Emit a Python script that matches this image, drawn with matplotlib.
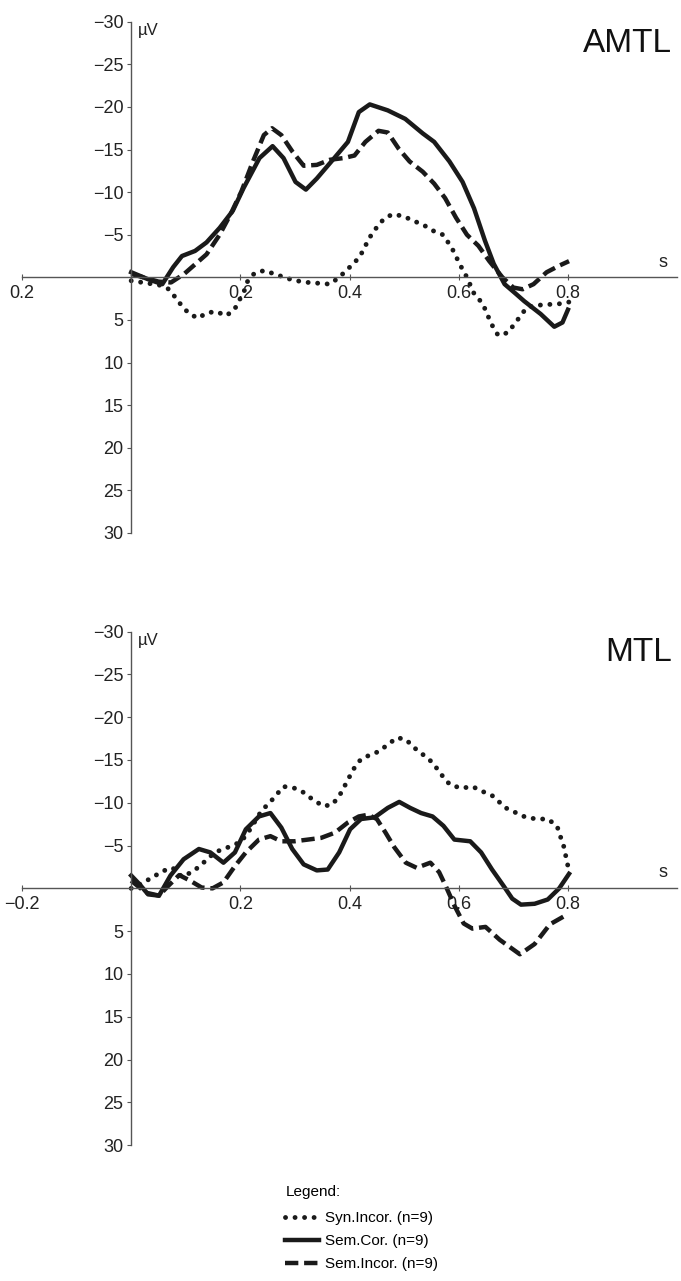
import matplotlib
matplotlib.use("Agg")
import matplotlib.pyplot as plt

plt.rcParams['font.family'] = ['Liberation Sans', 'DejaVu Sans']

# ---- AMTL panel (time in s, amplitude in uV) ----
amtl_syn_t = [0.0, 0.051, 0.067, 0.079, 0.091, 0.105, 0.122, 0.138, 0.155, 0.174, 0.189, 0.198,
              0.207, 0.213, 0.226, 0.244, 0.262, 0.281, 0.297, 0.324, 0.344, 0.364, 0.381, 0.397,
              0.409, 0.421, 0.437, 0.449, 0.462, 0.478, 0.498, 0.518, 0.534, 0.555, 0.571, 0.587,
              0.603, 0.615, 0.628, 0.644, 0.66, 0.672, 0.69, 0.71, 0.725, 0.74, 0.761, 0.785, 0.802]
amtl_syn_v = [0.4, 0.9, 1.3, 2.2, 3.2, 4.2, 4.8, 4.2, 4.0, 4.5, 3.8, 2.7,
              1.6, 0.5, -0.5, -0.8, -0.4, 0.0, 0.35, 0.6, 0.7, 0.8, 0.0, -1.0,
              -1.7, -2.7, -4.7, -5.8, -6.8, -7.4, -7.2, -6.6, -6.2, -5.4, -5.0, -3.5,
              -1.4, 0.0, 1.9, 3.1, 5.5, 6.8, 6.5, 4.8, 3.5, 3.3, 3.2, 3.1, 2.9]

amtl_cor_t = [0.0, 0.03, 0.057, 0.077, 0.093, 0.117, 0.138, 0.162, 0.186, 0.206, 0.235, 0.259,
              0.279, 0.301, 0.32, 0.34, 0.372, 0.397, 0.417, 0.437, 0.47, 0.502, 0.534, 0.555,
              0.583, 0.607, 0.628, 0.648, 0.664, 0.684, 0.704, 0.72, 0.75, 0.775, 0.79, 0.8]
amtl_cor_v = [-0.6, 0.2, 0.8, -1.2, -2.5, -3.1, -4.1, -5.8, -7.8, -10.5, -14.0, -15.4,
              -14.0, -11.2, -10.3, -11.6, -14.0, -15.9, -19.4, -20.3, -19.6, -18.6, -16.9, -15.9,
              -13.6, -11.2, -8.1, -4.3, -1.6, 0.8, 1.9, 2.8, 4.3, 5.8, 5.3, 3.8]

amtl_inc_t = [0.0, 0.05, 0.073, 0.097, 0.138, 0.162, 0.182, 0.202, 0.223, 0.243, 0.258, 0.275,
              0.296, 0.316, 0.34, 0.364, 0.389, 0.409, 0.429, 0.453, 0.47, 0.49, 0.51, 0.534,
              0.555, 0.575, 0.595, 0.615, 0.636, 0.656, 0.68, 0.7, 0.717, 0.737, 0.761, 0.785, 0.802]
amtl_inc_v = [-0.4, 0.5, 0.6, -0.4, -2.7, -5.0, -7.4, -10.1, -13.6, -16.7, -17.5, -16.7,
              -14.7, -13.1, -13.2, -13.8, -14.0, -14.3, -15.9, -17.2, -17.0, -15.1, -13.6, -12.4,
              -11.0, -9.3, -7.0, -5.0, -3.7, -1.9, 0.0, 1.2, 1.4, 0.8, -0.6, -1.4, -1.9]

# ---- MTL panel ----
mtl_syn_t = [0.0, 0.023, 0.039, 0.059, 0.076, 0.092, 0.112, 0.129, 0.153, 0.169, 0.186, 0.202,
             0.218, 0.238, 0.259, 0.279, 0.299, 0.316, 0.332, 0.352, 0.369, 0.385, 0.397, 0.409,
             0.421, 0.438, 0.454, 0.47, 0.487, 0.503, 0.519, 0.535, 0.552, 0.568, 0.584, 0.605,
             0.625, 0.641, 0.662, 0.686, 0.706, 0.723, 0.743, 0.763, 0.78, 0.786, 0.792, 0.796, 0.8]
mtl_syn_v = [0.0, -0.7, -1.3, -2.05, -2.4, -1.4, -1.9, -2.8, -4.2, -4.6, -5.0, -5.5,
             -6.9, -9.0, -10.4, -11.9, -11.7, -11.2, -10.4, -9.6, -9.8, -11.2, -12.7, -14.1,
             -15.1, -15.6, -16.0, -16.8, -17.6, -17.4, -16.4, -15.6, -14.7, -13.3, -12.1, -11.7,
             -11.9, -11.4, -10.8, -9.4, -8.8, -8.3, -8.1, -8.1, -7.3, -6.1, -5.0, -3.8, -2.6]

mtl_cor_t = [0.0, 0.015, 0.031, 0.051, 0.072, 0.096, 0.124, 0.145, 0.169, 0.19, 0.21, 0.234,
             0.255, 0.275, 0.295, 0.316, 0.34, 0.36, 0.381, 0.401, 0.421, 0.446, 0.47, 0.491,
             0.511, 0.531, 0.552, 0.572, 0.592, 0.621, 0.641, 0.661, 0.682, 0.698, 0.714, 0.739,
             0.763, 0.784, 0.802]
mtl_cor_v = [-1.5, -0.5, 0.7, 0.85, -1.5, -3.4, -4.6, -4.2, -3.0, -4.2, -6.9, -8.4,
             -8.8, -7.1, -4.6, -2.8, -2.1, -2.2, -4.2, -6.9, -8.1, -8.3, -9.4, -10.1,
             -9.4, -8.8, -8.4, -7.3, -5.7, -5.5, -4.2, -2.2, -0.3, 1.2, 1.9, 1.8,
             1.3, 0.0, -1.7]

mtl_inc_t = [0.0, 0.027, 0.051, 0.068, 0.088, 0.108, 0.129, 0.149, 0.169, 0.19, 0.21, 0.234,
             0.255, 0.275, 0.299, 0.324, 0.348, 0.373, 0.397, 0.417, 0.434, 0.45, 0.466, 0.482,
             0.503, 0.523, 0.548, 0.564, 0.576, 0.592, 0.609, 0.625, 0.649, 0.675, 0.712, 0.739,
             0.767, 0.8]
mtl_inc_v = [-0.9, 0.5, 0.85, -0.3, -1.55, -0.9, -0.1, 0.0, -0.7, -2.6, -4.2, -5.7,
             -6.1, -5.5, -5.5, -5.7, -5.9, -6.5, -7.7, -8.4, -8.6, -8.1, -6.5, -4.8,
             -3.0, -2.4, -3.0, -1.9, -0.3, 2.0, 4.1, 4.7, 4.5, 6.0, 7.7, 6.5,
             4.2, 3.0]

labels = ["Syn.Incor. (n=9)", "Sem.Cor. (n=9)", "Sem.Incor. (n=9)"]
yticks = [-30, -25, -20, -15, -10, -5, 5, 10, 15, 20, 25, 30]
xticks = [-0.2, 0.2, 0.4, 0.6, 0.8]

col = "#1a1a1a"
axcol = "#555555"
styles = [dict(linestyle=(0, (0.01, 1.95)), lw=3.5, dash_capstyle="round"),
          dict(linestyle="-", lw=3.2),
          dict(linestyle=(0, (3.0, 1.3)), lw=3.2)]

fig = plt.figure(figsize=(6.81, 12.81), dpi=100)


def panel(rect, series, name, xlabels):
    ax = fig.add_axes(rect)
    handles = []
    for (t, v), st, lab in zip(series, styles, labels):
        h, = ax.plot(t, v, color=col, label=lab, **st)
        handles.append(h)
    ax.set_xlim(-0.2, 1.0)
    ax.set_ylim(30, -30)
    for s in ["top", "right"]:
        ax.spines[s].set_visible(False)
    ax.spines["left"].set_position(("data", 0))
    ax.spines["bottom"].set_position(("data", 0))
    for s in ["left", "bottom"]:
        ax.spines[s].set_color(axcol)
        ax.spines[s].set_linewidth(1.0)
    ax.set_yticks(yticks)
    ax.set_yticklabels([str(y).replace("-", "\u2212") for y in yticks])
    ax.set_xticks(xticks)
    ax.set_xticklabels(xlabels)
    ax.tick_params(axis="y", direction="out", length=3, pad=2.5, labelsize=13,
                   color=axcol, labelcolor="#222222")
    ax.tick_params(axis="x", direction="inout", length=5, pad=3, labelsize=13,
                   color=axcol, labelcolor="#222222")
    ax.text(0.012, -29.0, "\u00b5V", fontsize=12, ha="left", va="center", color="#222222")
    ax.text(0.975, -1.8, "s", fontsize=13, ha="center", va="center", color="#222222")
    ax.text(0.99, -27.5, name, fontsize=24, ha="right", va="center", color="#111111")
    return handles


panel([0.0323, 0.584, 0.962, 0.399],
      [(amtl_syn_t, amtl_syn_v), (amtl_cor_t, amtl_cor_v), (amtl_inc_t, amtl_inc_v)],
      "AMTL", ["0.2", "0.2", "0.4", "0.6", "0.8"])
handles = panel([0.0323, 0.106, 0.962, 0.401],
                [(mtl_syn_t, mtl_syn_v), (mtl_cor_t, mtl_cor_v), (mtl_inc_t, mtl_inc_v)],
                "MTL", ["\u22120.2", "0.2", "0.4", "0.6", "0.8"])

leg = fig.legend(handles=handles, labels=labels, title="Legend:", loc="upper left",
                 bbox_to_anchor=(0.408, 0.081), frameon=False, fontsize=11,
                 title_fontsize=11, handlelength=2.2, handletextpad=0.4,
                 labelspacing=0.58, borderpad=0)
leg._legend_box.align = "left"
leg._legend_box.sep = 9

fig.savefig("out.png", dpi=100)
